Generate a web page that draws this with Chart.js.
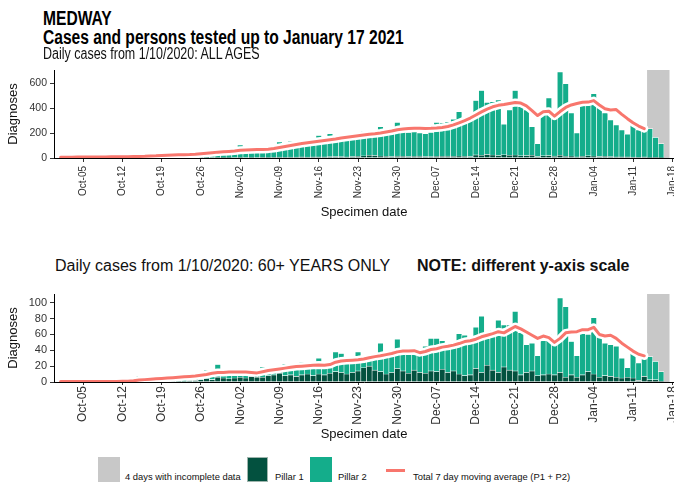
<!DOCTYPE html>
<html>
<head>
<meta charset="utf-8">
<title>Medway cases and persons tested</title>
<script src="https://cdn.jsdelivr.net/npm/chart.js@4.4.1/dist/chart.umd.min.js"></script>
<style>
  html, body { margin: 0; padding: 0; background: #fff; }
  body { width: 674px; height: 485px; position: relative; overflow: hidden;
         font-family: "Liberation Sans", Arial, Helvetica, sans-serif; }
  canvas { position: absolute; left: 0; }
  .txt { position: absolute; white-space: nowrap; line-height: 1; color: #000; transform-origin: 0 0; }
  .narrow { transform: scaleX(0.78); }
  .key { position: absolute; top: 457px; height: 25px; }
  .keytxt { position: absolute; top: 472px; font-size: 9.4px; line-height: 1; color: #111; white-space: nowrap; }
</style>
</head>
<body>

<canvas id="allAges" width="674" height="160" style="top:60px"></canvas>
<canvas id="over60" width="674" height="158" style="top:284px"></canvas>

<div class="txt narrow" style="left:43px; top:8px; font-size:20px; font-weight:bold">MEDWAY</div>
<div class="txt narrow" style="left:43px; top:27px; font-size:20px; font-weight:bold">Cases and persons tested up to January 17 2021</div>
<div class="txt narrow" style="left:43px; top:45.5px; font-size:16px; color:#111">Daily cases from 1/10/2020: ALL AGES</div>
<div class="txt" style="left:55px; top:258px; font-size:16px; color:#111">Daily cases from 1/10/2020: 60+ YEARS ONLY</div>
<div class="txt" style="left:417px; top:258px; font-size:16px; font-weight:bold; color:#111">NOTE: different y-axis scale</div>

<div class="key" style="left:98px; width:22px; background:#c8c8c8"></div>
<div class="keytxt" style="left:125px">4 days with incomplete data</div>
<div class="key" style="left:247px; width:21px; background:#03513f; box-sizing:border-box; border:1px solid #9fb5ad"></div>
<div class="keytxt" style="left:275px">Pillar 1</div>
<div class="key" style="left:310px; width:22px; background:#14ad8b"></div>
<div class="keytxt" style="left:338px">Pillar 2</div>
<div style="position:absolute; left:386px; top:469px; width:19px; height:3px; background:#f8766d"></div>
<div class="keytxt" style="left:413px">Total 7 day moving average (P1 + P2)</div>

<script>
// daily counts by specimen date, 1 Oct 2020 .. 17 Jan 2021 (109 days)
const pillar1All = [
  0, 0, 1, 0, 0, 1, 0, 0, 1, 0, 0, 0, 1, 0, 1, 0, 0, 1, 1, 2, 1,
  2, 1, 1, 2, 3, 3, 4, 5, 3, 3, 4, 5, 4, 5, 4, 6, 5, 6, 7, 6,
  7, 8, 9, 8, 9, 10, 9, 11, 12, 11, 10, 12, 14, 18, 22, 20, 16, 14, 12, 15,
  14, 12, 13, 15, 12, 11, 14, 13, 15, 14, 16, 13, 12, 25, 22, 28, 24, 20, 26, 22,
  24, 18, 20, 22, 12, 18, 20, 15, 22, 14, 16, 10, 14, 18, 16, 12, 13, 11, 10, 9,
  10, 8, 6, 9, 5, 6, 3, 0
];
const pillar2All = [
  8, 10, 5, 5, 9, 11, 10, 11, 8, 7, 8, 12, 13, 13, 16, 15, 12, 19, 21, 23, 26,
  22, 20, 17, 28, 33, 37, 44, 47, 41, 37, 46, 100, 51, 53, 56, 56, 50, 64, 121, 79,
  128, 102, 106, 92, 96, 170, 121, 184, 138, 159, 155, 148, 196, 197, 168, 155, 234, 186, 183, 270,
  201, 193, 197, 185, 183, 194, 271, 267, 275, 296, 354, 287, 298, 435, 518, 417, 426, 445, 244, 363,
  516, 392, 365, 228, 103, 377, 460, 325, 668, 581, 344, 190, 411, 407, 499, 393, 347, 294, 255, 216,
  180, 262, 219, 216, 230, 159, 112, 0
];
// 7 day moving average (P1 + P2), stops before the incomplete days
const avgAll = [
  6, 7, 7, 8, 8, 8, 9, 9, 9, 10, 10, 11, 11, 12, 13, 14, 16, 18, 21, 23, 25,
  26, 27, 28, 30, 34, 38, 42, 47, 50, 53, 56, 62, 64, 66, 68, 69, 71, 76, 84, 92,
  100, 108, 116, 122, 128, 134, 140, 146, 152, 160, 166, 172, 178, 184, 190, 194, 200, 208, 216, 226,
  232, 236, 238, 238, 237, 238, 240, 245, 252, 265, 282, 300, 320, 345, 370, 392, 410, 422, 428, 436,
  445, 440, 418, 380, 340, 370, 375, 335, 372, 405, 425, 436, 446, 448, 460, 425, 395, 385, 388, 350,
  315, 282, 256, 235
];

const pillar1Over60 = [
  0, 0, 0, 0, 0, 0, 0, 0, 0, 0, 0, 0, 0, 0,
  0, 0, 1, 0, 1, 1, 2, 1, 1, 2, 2, 3, 4, 3, 6, 5, 4, 5, 6, 5,
  7, 6, 6, 8, 9, 11, 8, 9, 7, 9, 10, 8, 10, 9, 11, 13, 12, 10, 12, 14,
  18, 20, 15, 13, 10, 12, 17, 14, 11, 15, 12, 11, 14, 13, 16, 12, 14, 10, 8, 9,
  17, 12, 21, 15, 12, 19, 15, 14, 9, 12, 14, 8, 9, 10, 9, 12, 6, 9, 6, 9,
  13, 10, 6, 8, 7, 6, 5, 6, 5, 2, 7, 3, 3, 1, 0
];
const pillar2Over60 = [
  1, 0, 1, 0, 1, 1, 0, 1, 1, 0, 1, 1, 2, 1,
  8, 3, 2, 4, 3, 4, 7, 8, 4, 9, 4, 5, 11, 6, 16, 3, 6, 4, 6, 5,
  4, 6, 13, 5, 6, 5, 15, 9, 12, 16, 10, 14, 20, 13, 10, 25, 24, 16, 16, 24,
  11, 10, 17, 36, 24, 23, 37, 24, 26, 23, 21, 34, 41, 42, 36, 33, 34, 51, 51, 40,
  52, 71, 34, 51, 66, 53, 57, 75, 53, 35, 35, 25, 43, 50, 40, 94, 89, 42, 27, 52,
  47, 71, 52, 41, 40, 39, 25, 12, 32, 22, 23, 29, 23, 12, 0
];
const avgOver60 = [
  0.6, 0.6, 0.6, 0.5, 0.6, 0.6, 0.5, 0.6, 0.6, 0.6, 0.7, 0.8, 1,
  1.5, 2.5, 3, 3.5, 4, 4.5, 5, 5.5, 6, 6.5, 7, 7.5, 8.5, 9.5, 11, 12, 12, 12.5, 12.5, 12.5,
  12.5, 12, 11.5, 13, 14.5, 15.5, 16.5, 17.5, 18.5, 19.5, 20, 20.5, 21, 21.5, 21, 22, 25, 26.5, 27, 27.5,
  28, 29, 30.5, 32, 33, 34.5, 36, 38, 39, 39, 39.5, 37, 38.5, 41, 42, 44, 45, 46.5, 48.5, 51,
  52, 54, 57, 59, 61, 63.5, 62, 66, 70, 67, 63, 59, 55, 58, 56, 50, 55, 62, 63, 63.5,
  66, 66, 69, 60, 58, 59, 55, 49, 44, 39, 35, 33
];

// weekly ticks, first one is Mon 5 Oct (day 4)
const tickLabels = ['Oct-05', 'Oct-12', 'Oct-19', 'Oct-26', 'Nov-02', 'Nov-09', 'Nov-16', 'Nov-23',
  'Nov-30', 'Dec-07', 'Dec-14', 'Dec-21', 'Dec-28', 'Jan-04', 'Jan-11', 'Jan-18'];
const firstTickDay = 4;
const incompleteDays = 4;

// x value = days since 1 Oct 2020
const days = pillar2All.map(function (_, i) { return i; });

var COL_P1 = '#03513f';
var COL_P2 = '#14ad8b';
var COL_AVG = '#f8766d';
var COL_GREY = '#c8c8c8';

Chart.defaults.font.family = '"Liberation Sans", Arial, Helvetica, sans-serif';

// grey band behind the last few (incomplete) days
var incompleteBand = {
    id: 'incompleteBand',
    beforeDatasetsDraw: function (chart) {
        var ctx = chart.ctx, area = chart.chartArea;
        var x = chart.scales.x, y = chart.scales.y;
        var last = days.length - 1;
        var x0 = x.getPixelForValue(last - incompleteDays + 0.5);
        var x1 = x.getPixelForValue(last + 0.5);
        ctx.save();
        ctx.fillStyle = COL_GREY;
        ctx.fillRect(x0, area.top, x1 - x0, y.getPixelForValue(0) - area.top);
        ctx.restore();
    }
};

function makePanel(canvasId, p1, p2, avg, cfg) {
    var barStyle = {
        type: 'bar',
        stack: 'cases',
        order: 2,
        borderColor: '#ffffff',
        borderWidth: 0.6,
        barPercentage: 1,
        categoryPercentage: 1,
    };

    var datasets = [
        Object.assign({label: 'Pillar 1', data: p1, backgroundColor: COL_P1}, barStyle),
        Object.assign({label: 'Pillar 2', data: p2, backgroundColor: COL_P2}, barStyle),
        {
            // white casing under the average line
            type: 'line', label: 'halo', data: avg, stack: 'halo', order: 1,
            borderColor: '#ffffff', borderWidth: 8, pointRadius: 0, tension: 0,
            borderJoinStyle: 'round', borderCapStyle: 'round',
        },
        {
            type: 'line', label: 'Total 7 day moving average (P1 + P2)', data: avg, stack: 'avg', order: 0,
            borderColor: COL_AVG, borderWidth: 3, pointRadius: 0, tension: 0,
            borderJoinStyle: 'round', borderCapStyle: 'round',
        },
    ];

    return new Chart(document.getElementById(canvasId), {
        type: 'bar',
        data: {labels: days, datasets: datasets},
        plugins: [incompleteBand],
        options: {
            responsive: false,
            animation: false,
            devicePixelRatio: 1,
            layout: {padding: {top: 10, left: 0, right: 0, bottom: 0}},
            plugins: {legend: {display: false}, tooltip: {enabled: false}},
            scales: {
                x: {
                    type: 'linear',
                    stacked: true,
                    offset: false,
                    min: -1.18,
                    max: 109.3,
                    border: {display: true, color: '#000', width: 1},
                    grid: {display: true, offset: false, drawOnChartArea: false, drawTicks: true,
                        tickLength: cfg.xTickLen, color: '#333'},
                    afterBuildTicks: function (scale) {
                        scale.ticks = tickLabels.map(function (_, i) {
                            return {value: firstTickDay + 7 * i};
                        });
                    },
                    ticks: {
                        autoSkip: false, minRotation: 90, maxRotation: 90,
                        padding: cfg.xTickPad, color: '#333', font: {size: cfg.xFont},
                        callback: function (value, index) { return tickLabels[index]; },
                    },
                    title: {display: true, text: 'Specimen date', color: '#111', font: {size: 13}, padding: 0},
                    afterFit: function (scale) {
                        scale.height = cfg.xHeight;
                        scale.paddingLeft = 0;
                        scale.paddingRight = 0;
                    },
                },
                y: {
                    stacked: true,
                    min: 0,
                    max: cfg.yMax,
                    border: {display: true, color: '#000', width: 1},
                    grid: {display: true, drawOnChartArea: false, drawTicks: true, tickLength: 4, color: '#333'},
                    ticks: {stepSize: cfg.yStep, includeBounds: false, padding: 3, color: '#333',
                        font: {size: cfg.yFont}},
                    title: {display: true, text: 'Diagnoses', color: '#111', font: {size: 13},
                        padding: {top: 6, bottom: 0}},
                    afterFit: function (scale) { scale.width = 54; },
                },
            },
        },
    });
}

makePanel('allAges', pillar1All, pillar2All, avgAll,
    {yMax: 705, yStep: 200, yFont: 10.5, xFont: 10, xTickLen: 4, xTickPad: 4, xHeight: 62});
makePanel('over60', pillar1Over60, pillar2Over60, avgOver60,
    {yMax: 111, yStep: 20, yFont: 11, xFont: 12, xTickLen: 3, xTickPad: 1, xHeight: 60});
</script>
</body>
</html>
